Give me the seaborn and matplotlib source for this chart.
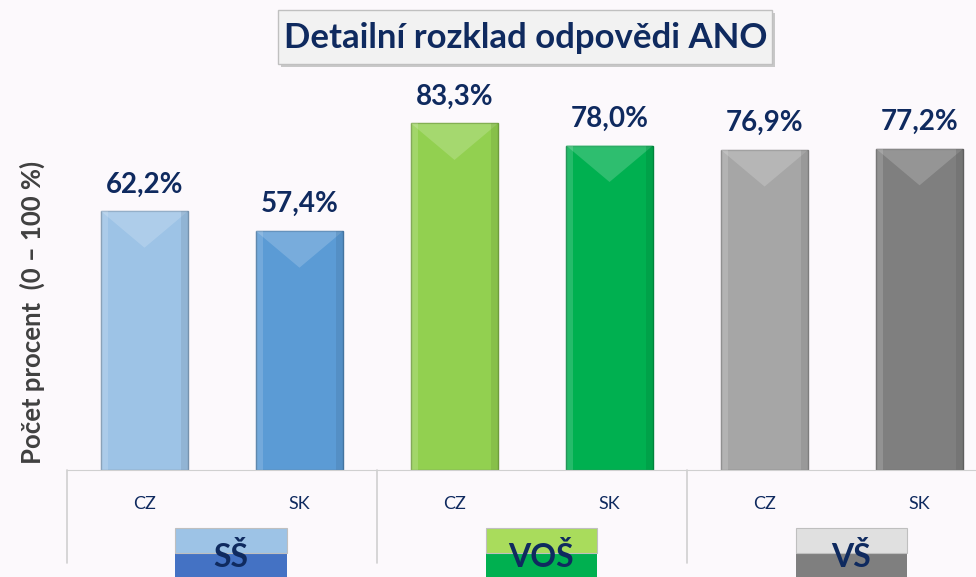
import matplotlib
matplotlib.use('Agg')
import matplotlib.pyplot as plt
from matplotlib.patches import Rectangle, Polygon
import matplotlib.colors as mcolors
import seaborn as sns
import pandas as pd

# data
skupiny = ['SŠ', 'SŠ', 'VOŠ', 'VOŠ', 'VŠ', 'VŠ']
zeme = ['CZ', 'SK', 'CZ', 'SK', 'CZ', 'SK']
hodnoty = [62.2, 57.4, 83.3, 78.0, 76.9, 77.2]
barvy = ['#9dc3e6', '#5b9bd5', '#92d050', '#00b050', '#a6a6a6', '#7f7f7f']
skupiny_nazvy = ['SŠ', 'VOŠ', 'VŠ']
skupiny_barvy = [('#9dc3e6', '#4472c4'), ('#a9dc5c', '#00b050'), ('#e0e0e0', '#7f7f7f')]

NAVY = '#0f2a5f'
BG = '#fcf9fc'

df = pd.DataFrame({'klic': [f'{s} {z}' for s, z in zip(skupiny, zeme)],
                   'zeme': zeme, 'hodnota': hodnoty})

sns.set_style('white')
plt.rcParams['font.family'] = ['Lato', 'DejaVu Sans']

fig = plt.figure(figsize=(9.76, 5.77), dpi=100, facecolor=BG)
ax = fig.add_axes([0.0686, 0.1854, 0.9314, 0.721])
ax.set_facecolor(BG)

sns.barplot(data=df, x='klic', y='hodnota', hue='klic', palette=barvy,
            legend=False, width=0.56, ax=ax, edgecolor='none', saturation=1)

ax.set_ylim(0, 100)
ax.set_xlim(-0.5, 5.364)

# pixel scale for the bevel effect
p0 = ax.transData.transform((0, 0))
p1 = ax.transData.transform((1, 1))
px_x = p1[0] - p0[0]
px_y = p1[1] - p0[1]

for bar, c in zip(ax.patches, barvy):
    x, w, h = bar.get_x(), bar.get_width(), bar.get_height()
    tmavsi = tuple(v * 0.75 for v in mcolors.to_rgb(c))
    svetlejsi = tuple(min(1, v + (1 - v) * 0.3) for v in mcolors.to_rgb(c))
    bar.set_edgecolor(tmavsi)
    bar.set_linewidth(1.0)
    hloubka = w * px_x * 0.42 / px_y
    ax.add_patch(Polygon([(x, h), (x + w, h), (x + w / 2, h - hloubka)],
                         closed=True, facecolor=svetlejsi, edgecolor='none', alpha=0.6))
    okraj = w * 0.08
    ax.add_patch(Rectangle((x + w - okraj, 0), okraj, h, facecolor=tmavsi,
                           edgecolor='none', alpha=0.3))
    ax.add_patch(Rectangle((x, 0), okraj, h, facecolor='white',
                           edgecolor='none', alpha=0.15))
    ax.annotate(f'{h:.1f}%'.replace('.', ','), (x + w / 2, h), xytext=(0, 10),
                textcoords='offset points', ha='center', va='bottom',
                fontsize=20, fontweight='bold', color=NAVY)

ax.set_xticks(range(len(zeme)))
ax.set_xticklabels(zeme, fontsize=13, color=NAVY)
ax.tick_params(axis='x', length=0, pad=19)
ax.set_yticks([])
ax.set_xlabel('')
ax.set_ylabel('Počet procent  (0 – 100 %)', fontsize=18.5, fontweight='bold',
              color='#404040')
ax.yaxis.set_label_coords(-0.024, 0.38)

for s in ['top', 'right', 'left']:
    ax.spines[s].set_visible(False)
ax.spines['bottom'].set_color('#d0d0d0')

# group dividers below the axis
for xd in [-0.5, 1.5, 3.5]:
    ax.plot([xd, xd], [0, -0.224], transform=ax.get_xaxis_transform(),
            color='#d0d0d0', lw=1.2, clip_on=False)

# group label boxes
tr = ax.get_xaxis_transform()
for i, (nazev, (c_hore, c_dole)) in enumerate(zip(skupiny_nazvy, skupiny_barvy)):
    stred = 2 * i + 0.5 + 0.06
    sirka = 0.72
    ax.add_patch(Rectangle((stred - sirka / 2, -0.27), sirka, 0.07, transform=tr,
                           facecolor=c_dole, edgecolor='none', clip_on=False))
    ax.add_patch(Rectangle((stred - sirka / 2, -0.20), sirka, 0.06, transform=tr,
                           facecolor=c_hore, edgecolor='#bfbfbf', lw=0.8, clip_on=False))
    ax.text(stred, -0.21, nazev, transform=tr, ha='center', va='center',
            fontsize=23, fontweight='bold', color=NAVY)

# title box
fig.patches.append(Rectangle((281 / 976, 1 - 67 / 577), 494 / 976, 54 / 577,
                             transform=fig.transFigure, facecolor='#c8c8c8',
                             edgecolor='none', zorder=0))
fig.patches.append(Rectangle((278 / 976, 1 - 64 / 577), 494 / 976, 54 / 577,
                             transform=fig.transFigure, facecolor='#f2f2f2',
                             edgecolor='#c0c0c0', lw=1, zorder=1))
fig.text(526 / 976, 1 - 38 / 577, 'Detailní rozklad odpovědi ANO', ha='center',
         va='center', fontsize=25, fontweight='bold', color=NAVY, zorder=2)

fig.savefig('out.png', dpi=100, facecolor=BG)
